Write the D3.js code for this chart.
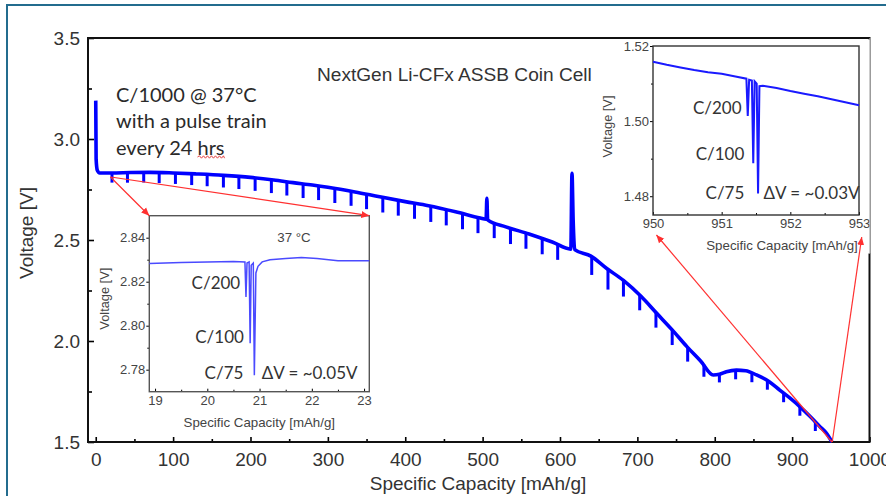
<!DOCTYPE html>
<html>
<head>
<meta charset="utf-8">
<script src="https://cdn.jsdelivr.net/npm/d3@7"></script>
<style>
  body { margin: 0; background: #fff; }
  svg { display: block; }
</style>
</head>
<body>
<div id="chart"></div>
<script>
// ---- main discharge curve (capacity mAh/g, voltage V)
const curveCap = [0, 0.5, 2, 5, 20, 45, 70, 100, 130, 165, 200, 230, 255, 280, 300, 335, 367, 400, 430, 465, 497,
  504.5, 505.5, 506.5, 530, 560, 590, 614, 615.5, 617, 619, 640, 660, 682, 705, 725, 745, 764, 782, 798, 806, 815,
  828, 840, 854, 870, 884, 897, 910, 923, 936, 944, 951.5];
const curveV = [3.19, 2.90, 2.845, 2.832, 2.832, 2.834, 2.835, 2.832, 2.827, 2.82, 2.81, 2.797, 2.784, 2.772, 2.761, 2.738, 2.714, 2.69, 2.67, 2.64, 2.609,
  2.603, 2.707, 2.600, 2.565, 2.53, 2.49, 2.455, 2.83, 2.60, 2.452, 2.42, 2.36, 2.30, 2.22, 2.137, 2.055, 1.972, 1.90, 1.832, 1.835, 1.848,
  1.856, 1.853, 1.832, 1.80, 1.757, 1.718, 1.675, 1.627, 1.576, 1.545, 1.50];

// pulse train every 24 h: where each pulse sits and how far the voltage drops
const pulseCap = [21, 41, 62, 82, 103, 124, 144, 165, 185, 206, 227, 247, 268, 288, 309, 330, 350, 371, 391, 412, 433,
  453, 474, 494, 515, 536, 556, 577, 597, 641, 662, 682, 703, 724, 745, 765, 786, 806, 827, 848, 868, 889, 910, 930];
const pulseDrop = [0.048, 0.05, 0.05, 0.052, 0.054, 0.056, 0.058, 0.06, 0.062, 0.064, 0.066, 0.068, 0.07, 0.07, 0.072, 0.072, 0.074, 0.075, 0.076, 0.077, 0.078,
  0.078, 0.078, 0.078, 0.078, 0.078, 0.078, 0.078, 0.078, 0.09, 0.10, 0.08, 0.075, 0.075, 0.075, 0.07, 0.06, 0.04, 0.045, 0.045, 0.045, 0.045, 0.045, 0.045];

const xTicks = [0, 100, 200, 300, 400, 500, 600, 700, 800, 900, 1000];
const xMinor = [50, 150, 250, 350, 450, 550, 650, 750, 850, 950];
const yTicks = [1.5, 2.0, 2.5, 3.0, 3.5];
const yMinor = [1.75, 2.25, 2.75, 3.25];

// ---- inset near 21 mAh/g
const lowCap = [18.89, 19.5, 20.0, 20.5, 20.72, 20.74, 20.76, 20.80, 20.82, 20.84, 20.88, 20.90, 20.93, 20.97, 21.05, 21.2, 21.5, 21.8, 22.1, 22.5, 23.1];
const lowV = [2.8283, 2.8287, 2.829, 2.8292, 2.829, 2.813, 2.8285, 2.829, 2.792, 2.8275, 2.8285, 2.7775, 2.824, 2.827, 2.829, 2.830, 2.8305, 2.831, 2.8305, 2.8295, 2.8295];
const lowXTicks = [19, 20, 21, 22, 23];
const lowXMinor = [19.5, 20.5, 21.5, 22.5];
const lowYTicks = [2.78, 2.80, 2.82, 2.84];
const lowYMinor = [2.79, 2.81, 2.83];

// ---- inset near 951 mAh/g
const endCap = [950, 950.2, 950.4, 950.6, 950.8, 951.0, 951.2, 951.36, 951.38, 951.40, 951.44, 951.46, 951.48, 951.51, 951.53, 951.55, 951.6, 951.8, 952.0, 952.2, 952.4, 952.6, 952.8, 953];
const endV = [1.5158, 1.5150, 1.5143, 1.5136, 1.5130, 1.5126, 1.5119, 1.5113, 1.5014, 1.5110, 1.5108, 1.4888, 1.5106, 1.5100, 1.4807, 1.5093, 1.5094, 1.5088, 1.5080, 1.5073, 1.5066, 1.5058, 1.5050, 1.5042];
const endXTicks = [950, 951, 952, 953];
const endXMinor = [950.5, 951.5, 952.5];
const endYTicks = [1.48, 1.50, 1.52];
const endYMinor = [1.49, 1.51];

const rates = ["C/200", "C/100", "C/75"];

const width = 886, height = 496;
const arial = "'Liberation Sans', Arial, sans-serif";
const calibri = "Lato, 'Noto Sans', sans-serif";

const svg = d3.select("#chart").append("svg")
  .attr("width", width)
  .attr("height", height)
  .attr("font-family", arial);

const defs = svg.append("defs");
defs.append("marker")
  .attr("id", "arrow")
  .attr("markerUnits", "userSpaceOnUse")
  .attr("markerWidth", 9).attr("markerHeight", 8)
  .attr("refX", 8).attr("refY", 4)
  .attr("orient", "auto")
  .append("path").attr("d", "M0,0.5L8,4L0,7.5Z").attr("fill", "#ff3030");

// outer slide frame
svg.append("rect")
  .attr("x", 7).attr("y", 5)
  .attr("width", width).attr("height", height)
  .attr("fill", "none").attr("stroke", "#236c8e").attr("stroke-width", 2);

// ---- main chart
const x = d3.scaleLinear([-10, 1000], [88, 869.5]);
const y = d3.scaleLinear([1.5, 3.5], [442, 38]);

function styleAxis(g, size, color) {
  g.attr("font-family", arial).attr("font-size", size);
  g.select(".domain").remove();
  g.selectAll("text").attr("fill", color);
}

svg.append("g")
  .attr("transform", `translate(0,${y(1.5)})`)
  .call(d3.axisBottom(x).tickValues(xTicks).tickSize(-5).tickPadding(11).tickFormat(d3.format("d")))
  .call(g => styleAxis(g, 19, "#333"))
  .selectAll("line").attr("stroke-width", 1.6);
svg.append("g")
  .attr("transform", `translate(0,${y(1.5)})`)
  .call(d3.axisBottom(x).tickValues(xMinor).tickSize(-3).tickFormat(""))
  .call(g => g.select(".domain").remove())
  .selectAll("line").attr("stroke-width", 1.6);

svg.append("g")
  .attr("transform", `translate(${x(-10)},0)`)
  .call(d3.axisLeft(y).tickValues(yTicks).tickSize(-6).tickPadding(8).tickFormat(d3.format(".1f")))
  .call(g => styleAxis(g, 19, "#333"))
  .selectAll("line").attr("stroke-width", 1.6);
svg.append("g")
  .attr("transform", `translate(${x(-10)},0)`)
  .call(d3.axisLeft(y).tickValues(yMinor).tickSize(-4).tickFormat(""))
  .call(g => g.select(".domain").remove())
  .selectAll("line").attr("stroke-width", 1.6);

svg.append("rect")
  .attr("x", x(-10)).attr("y", y(3.5))
  .attr("width", x(1000) - x(-10)).attr("height", y(1.5) - y(3.5))
  .attr("fill", "none").attr("stroke", "#111").attr("stroke-width", 2);

svg.append("text")
  .attr("x", 478).attr("y", 490)
  .attr("text-anchor", "middle").attr("font-size", 19).attr("fill", "#333")
  .text("Specific Capacity [mAh/g]");
svg.append("text")
  .attr("transform", "translate(33,233) rotate(-90)")
  .attr("text-anchor", "middle").attr("font-size", 19).attr("fill", "#333")
  .text("Voltage [V]");

svg.append("text")
  .attr("x", 317).attr("y", 81)
  .attr("font-size", 19.1).attr("fill", "#333")
  .text("NextGen Li-CFx ASSB Coin Cell");

const note = svg.append("text")
  .attr("font-family", calibri).attr("font-size", 20).attr("fill", "#2a2a2a");
["C/1000 @ 37°C", "with a pulse train", "every 24 hrs"].forEach((t, i) => {
  note.append("tspan").attr("x", 116).attr("y", 101.5 + i * 26.7).text(t);
});
// red spell-check squiggle under "hrs"
{
  const last = note.selectAll("tspan").nodes()[2];
  const s = last.getStartPositionOfChar(9).x;
  const e = last.getEndPositionOfChar(11).x;
  const yy = 157;
  let d = `M${s},${yy}`;
  for (let k = s, up = true; k < e; k += 2, up = !up) d += `L${Math.min(k + 2, e)},${yy + (up ? -1.2 : 1.2)}`;
  svg.append("path").attr("d", d).attr("fill", "none").attr("stroke", "#e03030").attr("stroke-width", 0.9);
}

// discharge curve and pulses
const vAt = d3.scaleLinear(curveCap, curveV);
svg.append("path")
  .datum(d3.zip(curveCap, curveV))
  .attr("fill", "none").attr("stroke", "#0000ff").attr("stroke-width", 3.6)
  .attr("stroke-linejoin", "round")
  .attr("d", d3.line().x(d => x(d[0])).y(d => y(d[1])).curve(d3.curveMonotoneX));

svg.append("g")
  .attr("stroke", "#0000ff").attr("stroke-width", 3)
  .selectAll("line")
  .data(d3.zip(pulseCap, pulseDrop))
  .join("line")
  .attr("x1", d => x(d[0])).attr("x2", d => x(d[0]))
  .attr("y1", d => y(vAt(d[0])))
  .attr("y2", d => y(vAt(d[0]) - d[1]));

// ---- inset helper
function drawInset(o) {
  const xs = d3.scaleLinear(o.xDomain, o.xRange);
  const ys = d3.scaleLinear(o.yDomain, o.yRange);
  const g = svg.append("g");
  if (o.bg) g.append("rect").attr("x", o.bg[0]).attr("y", o.bg[1]).attr("width", o.bg[2]).attr("height", o.bg[3]).attr("fill", "#fff");

  g.append("g")
    .attr("transform", `translate(0,${o.yRange[0]})`)
    .call(d3.axisBottom(xs).tickValues(o.xTicks).tickSize(-3).tickPadding(4).tickFormat(d3.format("d")))
    .call(a => styleAxis(a, 13, "#444"));
  g.append("g")
    .attr("transform", `translate(0,${o.yRange[0]})`)
    .call(d3.axisBottom(xs).tickValues(o.xMinor).tickSize(-2).tickFormat(""))
    .call(a => a.select(".domain").remove());
  g.append("g")
    .attr("transform", `translate(${o.xRange[0]},0)`)
    .call(d3.axisLeft(ys).tickValues(o.yTicks).tickSize(3).tickPadding(1).tickFormat(d3.format(".2f")))
    .call(a => styleAxis(a, 13, "#444"));
  g.append("g")
    .attr("transform", `translate(${o.xRange[0]},0)`)
    .call(d3.axisLeft(ys).tickValues(o.yMinor).tickSize(2).tickFormat(""))
    .call(a => a.select(".domain").remove());

  g.append("rect")
    .attr("x", o.xRange[0]).attr("y", o.yRange[1])
    .attr("width", o.xRange[1] - o.xRange[0]).attr("height", o.yRange[0] - o.yRange[1])
    .attr("fill", "none").attr("stroke", o.frame).attr("stroke-width", 1.4);

  g.append("path")
    .datum(d3.zip(o.cap, o.v))
    .attr("fill", "none").attr("stroke", o.color).attr("stroke-width", o.lw)
    .attr("d", d3.line().x(d => xs(d[0])).y(d => ys(d[1])));

  g.append("text")
    .attr("x", (o.xRange[0] + o.xRange[1]) / 2 + o.xlabDx).attr("y", o.yRange[0] + 35)
    .attr("text-anchor", "middle").attr("font-size", 13.3).attr("fill", "#444")
    .text("Specific Capacity [mAh/g]");
  g.append("text")
    .attr("transform", `translate(${o.ylabX},${(o.yRange[0] + o.yRange[1]) / 2 + o.ylabDy}) rotate(-90)`)
    .attr("text-anchor", "middle").attr("font-size", 12.8).attr("fill", "#444")
    .text("Voltage [V]");

  const lab = g.append("g").attr("font-family", calibri).attr("font-size", 17).attr("fill", "#333");
  rates.forEach((r, i) => {
    lab.append("text")
      .attr("x", xs(o.rateAt[i][0])).attr("y", ys(o.rateAt[i][1]))
      .attr("dy", "0.35em").attr("text-anchor", "end")
      .text(r);
  });
  lab.append("text")
    .attr("x", xs(o.dvAt[0])).attr("y", ys(o.dvAt[1]))
    .attr("dy", "0.35em")
    .text(o.dv);
  return {xs, ys};
}

// upper-right inset (end of discharge)
const hi = drawInset({
  xDomain: [950, 953], xRange: [653, 859],
  yDomain: [1.475, 1.52], yRange: [215, 46],
  bg: [597, 39.5, 273, 214],
  xTicks: endXTicks, xMinor: endXMinor, yTicks: endYTicks, yMinor: endYMinor,
  cap: endCap, v: endV, color: "#1a1aff", lw: 2, frame: "#333",
  xlabDx: 26, ylabX: 612, ylabDy: -4,
  rateAt: [[951.29, 1.5036], [951.33, 1.4913], [951.33, 1.4809]],
  dvAt: [951.61, 1.4809], dv: "\u0394V = ~0.03V"
});
svg.append("line")
  .attr("x1", 870).attr("x2", 870).attr("y1", 38).attr("y2", 253)
  .attr("stroke", "#aaa").attr("stroke-width", 1.2);

// lower-left inset (start of discharge)
const lo = drawInset({
  xDomain: [18.89, 23.1], xRange: [149.3, 369.3],
  yDomain: [2.77, 2.85], yRange: [391.7, 215.7],
  bg: null,
  xTicks: lowXTicks, xMinor: lowXMinor, yTicks: lowYTicks, yMinor: lowYMinor,
  cap: lowCap, v: lowV, color: "#4a4aff", lw: 1.5, frame: "#555",
  xlabDx: 0, ylabX: 109, ylabDy: -5,
  rateAt: [[20.63, 2.8193], [20.70, 2.795], [20.69, 2.7785]],
  dvAt: [21.04, 2.7785], dv: "\u0394V = ~0.05V"
});
svg.append("text")
  .attr("x", 294).attr("y", 242)
  .attr("text-anchor", "middle").attr("font-size", 13.3).attr("fill", "#444")
  .text("37 °C");

// red pointer arrows from the main curve to each inset
const arrows = [
  [[x(19), y(2.812)], [lo.xs(18.89), lo.ys(2.85)]],
  [[x(19.5), y(2.812)], [lo.xs(23.1), lo.ys(2.85)]],
  [[x(951.5), y(1.5)], [hi.xs(950.05), hi.ys(1.475) + 20]],
  [[x(951.8), y(1.5)], [hi.xs(953.04), hi.ys(1.475) + 22]]
];
svg.append("g")
  .attr("stroke", "#ff3030").attr("stroke-width", 1.2)
  .selectAll("line")
  .data(arrows)
  .join("line")
  .attr("x1", d => d[0][0]).attr("y1", d => d[0][1])
  .attr("x2", d => d[1][0]).attr("y2", d => d[1][1])
  .attr("marker-end", "url(#arrow)");
</script>
</body>
</html>
